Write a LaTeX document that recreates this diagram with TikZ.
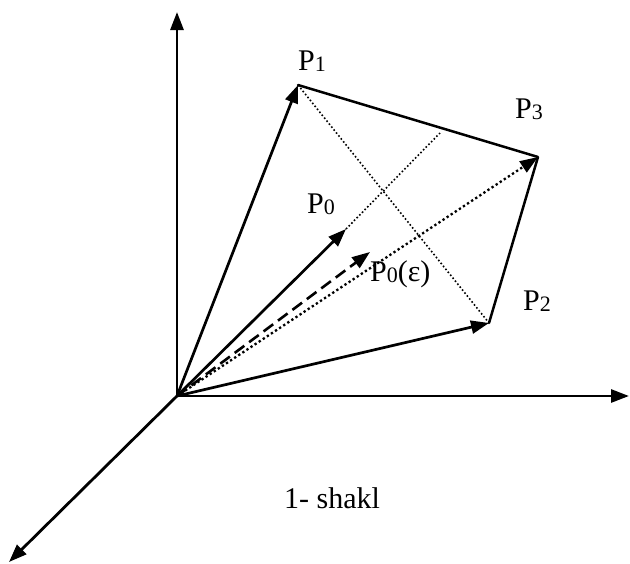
\documentclass[tikz,border=0pt]{standalone}
\usepackage{fontspec}
\setmainfont{Liberation Serif}
\usetikzlibrary{arrows.meta}
\newcommand\lbsub[1]{\raisebox{-1.5pt}{\fontsize{22}{22}\selectfont #1}}
\begin{document}
\begin{tikzpicture}[x=1pt,y=-1pt,
  vec/.style={line width=2.7pt,-{Triangle[length=18pt,width=13pt]}},
  axis/.style={line width=2.8pt,-{Triangle[length=18pt,width=13pt]}},
  edge/.style={line width=2.5pt},
  thindot/.style={line width=1.6pt,dash pattern=on 1.6pt off 2.2pt},
  thickdot/.style={line width=2.3pt,dash pattern=on 2.3pt off 2.6pt,-{Triangle[length=18pt,width=13pt]}},
  dashvec/.style={line width=2.6pt,dash pattern=on 12pt off 6pt,-{Triangle[length=18pt,width=13pt]}},
  lbl/.style={anchor=base west,inner sep=0pt,font=\fontsize{30}{33}\selectfont}]
\useasboundingbox (0,0) rectangle (630,563);
\coordinate (O) at (177,396);
\coordinate (Z) at (177,12);
\coordinate (X) at (629,396);
\coordinate (Y) at (9,562);
\coordinate (P1) at (298,85);
\coordinate (P3) at (538,157);
\coordinate (P2) at (489,323);
\coordinate (P0) at (346,229);
\coordinate (Pe) at (370,252);
\coordinate (M) at (440,133);
% axes
\draw[axis] (O) -- (Z);
\draw[axis] (O) -- (X);
\draw[axis] (O) -- (Y);
% edges
\draw[edge,line cap=round,line join=round] (P1) -- (P3) -- (P2);
% dotted
\draw[thindot] (P1) -- (P2);
\draw[thindot] (P0) -- (M);
\draw[thickdot] (O) -- (P3);
% vectors
\draw[vec] (O) -- (P1);
\draw[vec] (O) -- (P2);
\draw[vec] (O) -- (P0);
\draw[dashvec] (O) -- (Pe);
% labels
\node[lbl] (L1) at (298,70) {P\lbsub{1}};
\node[lbl] (L3) at (515,118) {P\lbsub{3}};
\node[lbl] (L2) at (523,310) {P\lbsub{2}};
\node[lbl] (L0) at (307,213) {P\lbsub{0}};
\node[lbl] (Le) at (370,281) {P\lbsub{0}(ε)};
\node[anchor=base west,inner sep=0pt,font=\fontsize{30}{33}\selectfont] (cap) at (284,508) {1- shakl};
\end{tikzpicture}
\end{document}
